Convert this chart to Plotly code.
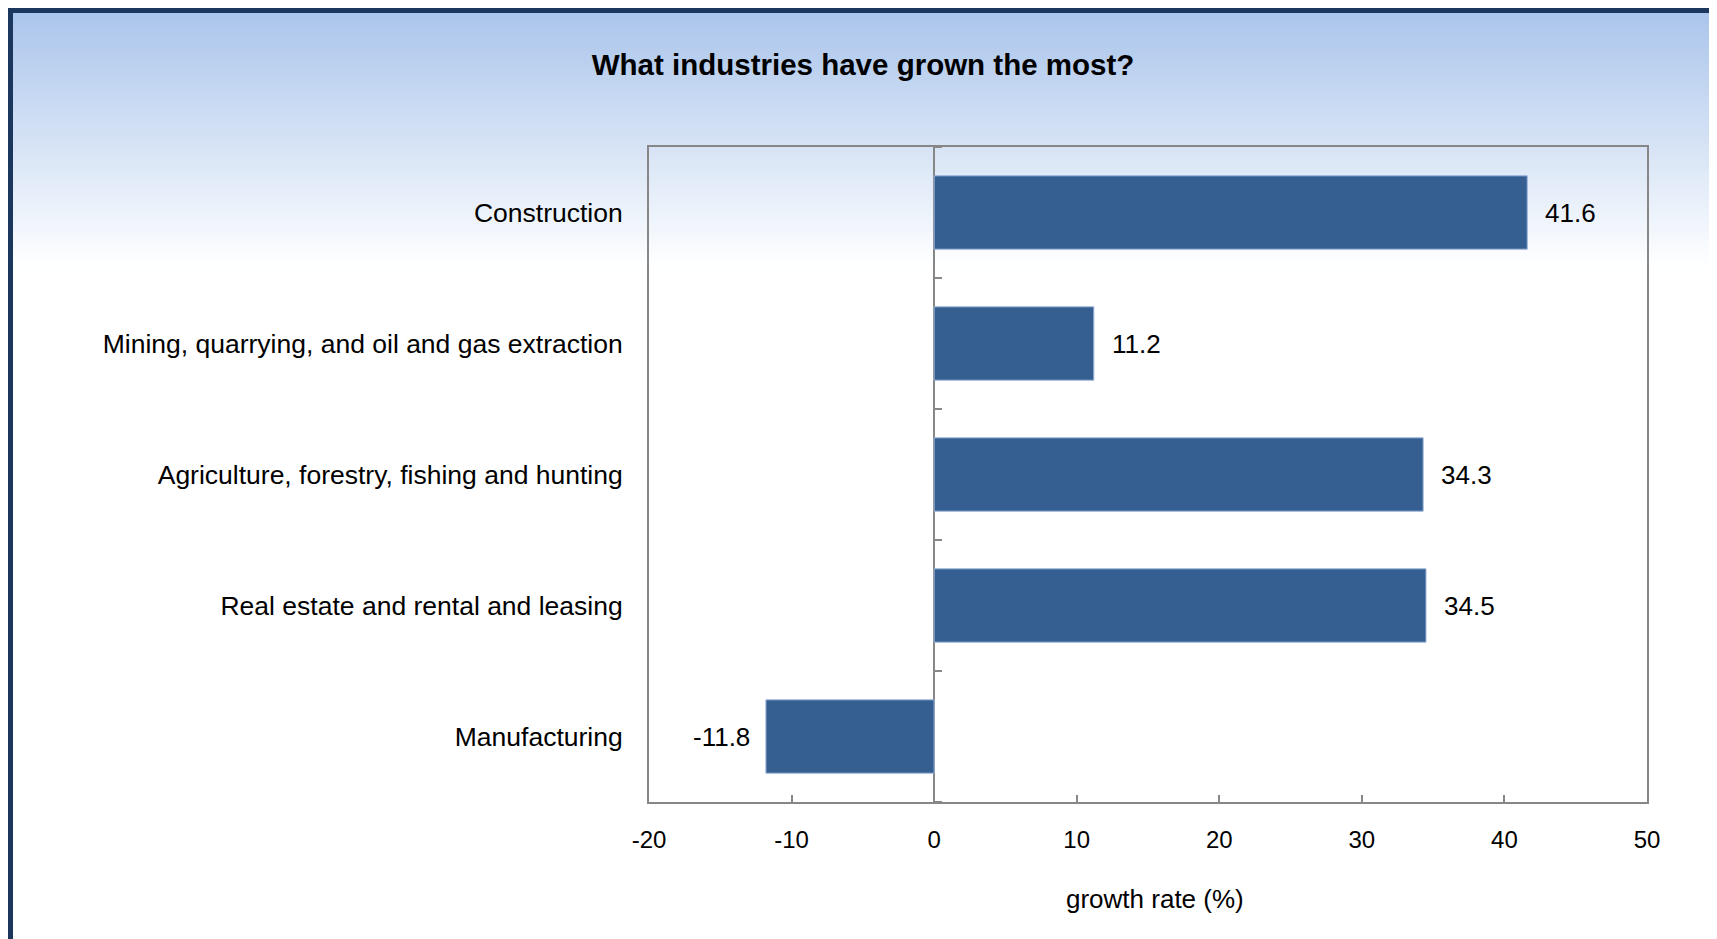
import plotly.graph_objects as go

# ---------------- data ----------------
industries = [
    "Construction",
    "Mining, quarrying, and oil and gas extraction",
    "Agriculture, forestry, fishing and hunting",
    "Real estate and rental and leasing",
    "Manufacturing",
]
growth = [41.6, 11.2, 34.3, 34.5, -11.8]
x_ticks = [-20, -10, 0, 10, 20, 30, 40, 50]
x_tick_labels = ["-20", "-10", "0", "10", "20", "30", "40", "50"]
title_text = "What industries have grown the most?"
x_title = "growth rate (%)"

# ---------------- layout constants ----------------
W, H = 1717, 939
OFF = 8  # page offset of the figure (default body margin)
ML, MR, MT, MB = 641, 78, 139, 145
PW, PH = W - ML - MR, H - MT - MB
XMIN, XMAX = -20, 50
FONT = "Liberation Sans, Arial, sans-serif"
GRAY = "#878787"
BAR = "#365f91"
NAVY = "#1b375d"


def page_x(px):
    """page pixel x -> paper coordinate"""
    return (px - OFF - ML) / PW


def page_y(py):
    """page pixel y -> paper coordinate"""
    return (H - MB - (py - OFF)) / PH


fig = go.Figure()

fig.add_trace(go.Bar(
    x=growth,
    y=industries,
    orientation="h",
    marker=dict(color=BAR, line=dict(color="#9db5da", width=1)),
    width=0.56,
    hoverinfo="x+y",
    showlegend=False,
))

# invisible helper trace to carry the tick axis at zero
fig.add_trace(go.Scatter(
    x=[0] * len(industries),
    y=list(range(len(industries))),
    yaxis="y2",
    mode="markers",
    marker=dict(opacity=0),
    hoverinfo="skip",
    showlegend=False,
))

# data labels
for cat, v in zip(industries, growth):
    fig.add_annotation(
        x=v, y=cat, xref="x", yref="y",
        text=f"{v}",
        showarrow=False,
        xanchor="left" if v >= 0 else "right",
        xshift=16 if v >= 0 else -14,
        font=dict(family=FONT, size=26, color="#000000"),
    )

# x axis title
fig.add_annotation(
    x=page_x(1155), y=page_y(899), xref="paper", yref="paper",
    text=x_title, showarrow=False, xanchor="center", yanchor="middle",
    font=dict(family=FONT, size=26, color="#000000"),
)

shapes = []
# background gradient (light blue at top fading to white)
top_rgb = (166, 194, 234)
grad_end = 268
step = 4
for y0 in range(OFF, grad_end, step):
    t = (y0 + step / 2) / grad_end
    r = round(top_rgb[0] + (255 - top_rgb[0]) * t)
    g = round(top_rgb[1] + (255 - top_rgb[1]) * t)
    b = round(top_rgb[2] + (255 - top_rgb[2]) * t)
    shapes.append(dict(
        type="rect", xref="paper", yref="paper", layer="below",
        x0=page_x(0), x1=page_x(W + OFF),
        y0=page_y(y0 + step + 0.5), y1=page_y(y0),
        fillcolor=f"rgb({r},{g},{b})", line=dict(width=0),
    ))
# navy frame
shapes.append(dict(
    type="rect", xref="paper", yref="paper", layer="above",
    x0=page_x(10), x1=page_x(1713),
    y0=page_y(980), y1=page_y(10),
    line=dict(color=NAVY, width=6), fillcolor="rgba(0,0,0,0)",
))

zero_pos = (0 - XMIN) / (XMAX - XMIN)
n = len(industries)

fig.update_layout(
    width=W, height=H,
    margin=dict(l=ML, r=MR, t=MT, b=MB, pad=0),
    paper_bgcolor="#ffffff",
    plot_bgcolor="rgba(0,0,0,0)",
    font=dict(family=FONT, size=26, color="#000000"),
    title=dict(
        text=f"<b>{title_text}</b>",
        x=(863 - OFF) / W, xanchor="center", xref="container",
        y=1 - (65 - OFF) / H, yanchor="middle", yref="container",
        font=dict(family=FONT, size=29.5, color="#000000"),
    ),
    bargap=0.44,
    xaxis=dict(
        range=[XMIN, XMAX],
        tickvals=x_ticks, ticktext=x_tick_labels,
        ticks="inside", ticklen=7, tickwidth=1.5, tickcolor=GRAY,
        showline=True, linecolor=GRAY, linewidth=2, mirror=True,
        showgrid=False,
        zeroline=True, zerolinecolor=GRAY, zerolinewidth=2,
        tickfont=dict(family=FONT, size=24, color="#000000"),
        ticklabelstandoff=15,
        fixedrange=True,
    ),
    yaxis=dict(
        categoryorder="array", categoryarray=industries,
        autorange="reversed",
        showline=True, linecolor=GRAY, linewidth=2, mirror=True,
        showgrid=False, ticks="",
        ticklabelstandoff=19,
        tickfont=dict(family=FONT, size=26.5, color="#000000"),
        fixedrange=True,
    ),
    yaxis2=dict(
        overlaying="y", anchor="free", position=zero_pos, side="right",
        range=[n - 0.5, -0.5],
        tickvals=[i - 0.5 for i in range(n + 1)],
        ticks="outside", ticklen=7, tickwidth=1.5, tickcolor=GRAY,
        showticklabels=False, showline=False, showgrid=False,
        zeroline=False, fixedrange=True,
    ),
    shapes=shapes,
)

fig.write_html("out.html")
